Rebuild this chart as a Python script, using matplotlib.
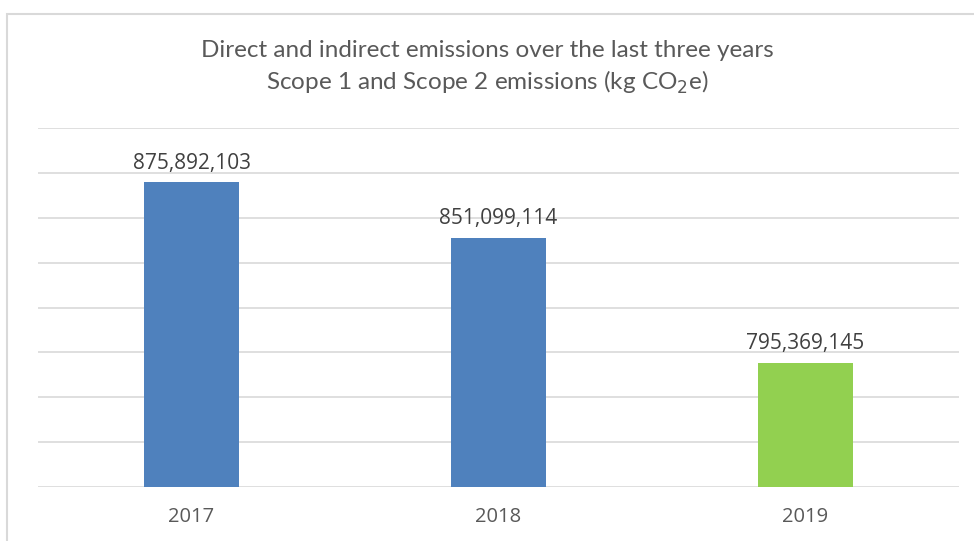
import matplotlib
matplotlib.use("Agg")
import matplotlib.pyplot as plt
from matplotlib.patches import Rectangle

years = ["2017", "2018", "2019"]
emissions = [875892103, 851099114, 795369145]
bar_colors = ["#4F81BD", "#4F81BD", "#92D050"]
y_min, y_max, y_step = 740e6, 900e6, 20e6

W, H = 974, 541
fig = plt.figure(figsize=(W / 100, H / 100), dpi=100)
fig.patch.set_facecolor("white")

# chart area border
fig.patches.append(Rectangle((7 / W, -0.1), 1.2, 1 - 14 / H + 0.1, transform=fig.transFigure,
                             fill=False, edgecolor="#D9D9D9", linewidth=1.5))

left, right, top, bottom = 38, 959, 128, 487
ax = fig.add_axes([left / W, 1 - bottom / H, (right - left) / W, (bottom - top) / H])

x = range(len(years))
bars = ax.bar(x, emissions, width=0.31, color=bar_colors, zorder=3)
ax.set_xlim(-0.5, len(years) - 0.5)
ax.set_ylim(y_min, y_max)
ticks = [y_min + i * y_step for i in range(int((y_max - y_min) / y_step) + 1)]
ax.set_yticks(ticks)
ax.yaxis.grid(True, color="#D9D9D9", linewidth=1.2)
ax.tick_params(axis="y", left=False, labelleft=False)
ax.tick_params(axis="x", bottom=False, labelsize=14.5, labelcolor="#595959", pad=11)
ax.set_xticks(list(x))
ax.set_xticklabels(years, family="Open Sans")
for s in ax.spines.values():
    s.set_visible(False)

for xi, v in zip(x, emissions):
    ax.annotate(f"{v:,}", (xi, v), xytext=(0, 6), textcoords="offset points",
                ha="center", va="bottom", fontsize=15, color="#404040", family="Open Sans")

fig.text(0.5, 1 - 50 / H, "Direct and indirect emissions over the last three years",
         ha="center", va="center", fontsize=17.5, color="#595959", family="Lato")
fig.text(0.5, 1 - 82 / H, r"Scope 1 and Scope 2 emissions (kg CO$_2$e)",
         ha="center", va="center", fontsize=17.5, color="#595959", family="Lato")

fig.savefig("out.png", dpi=100, facecolor="white")
